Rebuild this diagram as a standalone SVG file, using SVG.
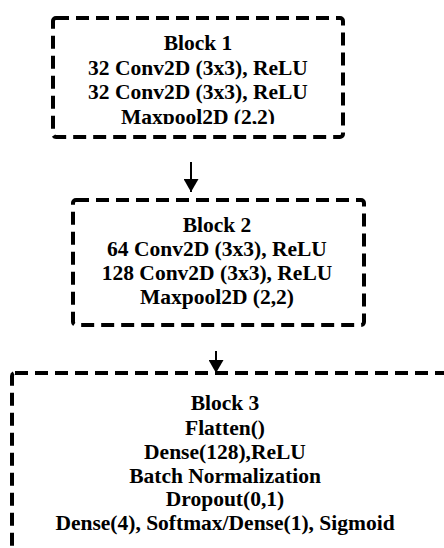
<svg xmlns="http://www.w3.org/2000/svg" width="444" height="548" viewBox="0 0 444 548">
<style>
.box{fill:none;stroke:#000;stroke-width:4;stroke-dasharray:13 7;stroke-linecap:butt}
.t{font-family:"Liberation Serif","Times New Roman",serif;font-weight:bold;font-size:21.5px;fill:#000;text-anchor:middle}
.arr{stroke:#000;stroke-width:2;fill:none}
</style>
<defs>
<marker id="ah" markerWidth="13" markerHeight="15" refX="13" refY="7.5" orient="auto" markerUnits="userSpaceOnUse" viewBox="0 0 13 15">
<path d="M0,0 L13,7.5 L0,15 Z" fill="#000"/>
</marker>
<clipPath id="c1"><rect x="0" y="0" width="444" height="124"/></clipPath>
</defs>
<rect width="444" height="548" fill="#fff"/>
<g id="block1">
<rect class="box" x="53" y="18" width="290" height="119" rx="3"/>
<text class="t" x="198" y="50">Block 1</text>
<text class="t" x="198" y="75">32 Conv2D (3x3), ReLU</text>
<text class="t" x="198" y="99">32 Conv2D (3x3), ReLU</text>
<text class="t" x="198" y="124" clip-path="url(#c1)">Maxpool2D (2,2)</text>
</g>
<g id="block2">
<rect class="box" x="73" y="200" width="291" height="125" rx="3"/>
<text class="t" x="217" y="232">Block 2</text>
<text class="t" x="217" y="256">64 Conv2D (3x3), ReLU</text>
<text class="t" x="217" y="280">128 Conv2D (3x3), ReLU</text>
<text class="t" x="217" y="304">Maxpool2D (2,2)</text>
</g>
<g id="block3">
<rect class="box" x="12" y="373" width="460" height="200" rx="3"/>
<text class="t" x="225" y="410">Block 3</text>
<text class="t" x="225" y="435">Flatten()</text>
<text class="t" x="225" y="459">Dense(128),ReLU</text>
<text class="t" x="225" y="483">Batch Normalization</text>
<text class="t" x="225" y="506">Dropout(0,1)</text>
<text class="t" x="225" y="530">Dense(4), Softmax/Dense(1), Sigmoid</text>
</g>
<g id="connectors">
<line class="arr" x1="191" y1="162" x2="191" y2="192" marker-end="url(#ah)"/>
<line class="arr" x1="216" y1="351" x2="216" y2="373" marker-end="url(#ah)"/>
</g>
</svg>
